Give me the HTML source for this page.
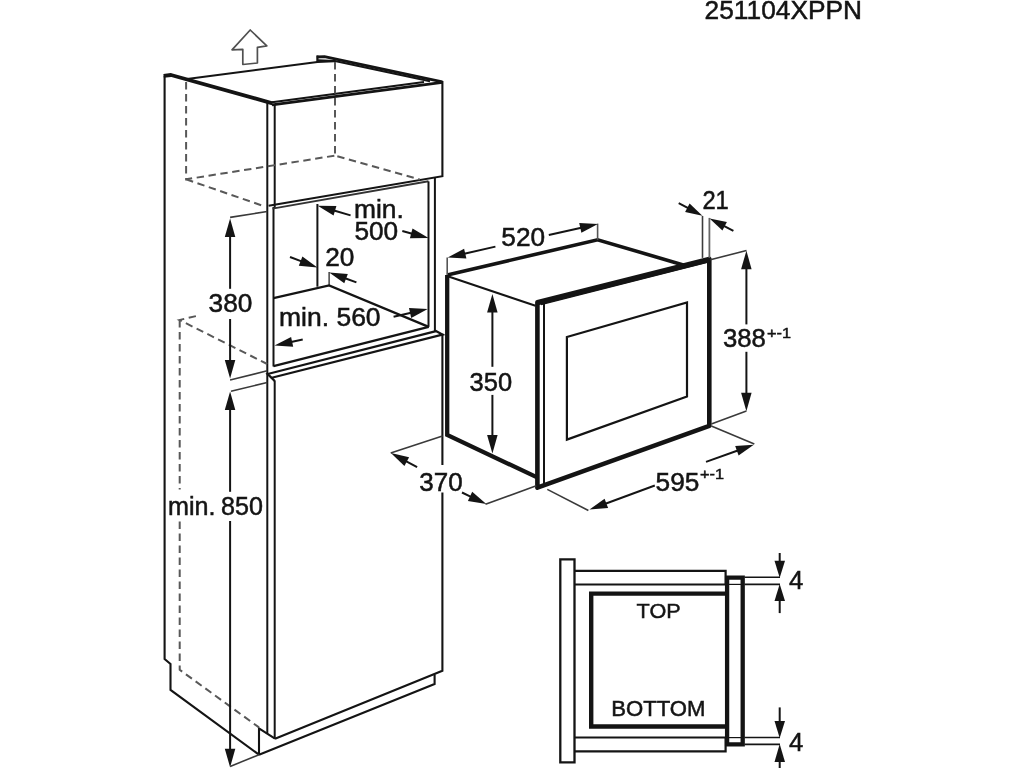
<!DOCTYPE html>
<html lang="en">
<head>
<meta charset="utf-8">
<title>251104XPPN</title>
<style>
html,body{margin:0;padding:0;background:#fff;}
body{width:1024px;height:768px;overflow:hidden;}
svg{display:block;filter:blur(0.45px);}
svg text{font-family:"Liberation Sans",sans-serif;}
</style>
</head>
<body>
<svg width="1024" height="768" viewBox="0 0 1024 768">
<rect width="1024" height="768" fill="#fff"/>
<text transform="translate(704.60 18.90) scale(1.0120 1)" font-size="26" text-anchor="start" fill="#141414" stroke="#141414" stroke-width="0.5">251104XPPN</text>
<path d="M250.2 30.0 L266.8 45.8 L257.4 47.3 L257.4 63.0 L242.8 64.5 L242.8 49.3 L232.0 49.8 Z" fill="none" stroke="#505050" stroke-width="1.7" stroke-linecap="butt" stroke-linejoin="round"/>
<path d="M164.6 75.7 L164.6 659.0 L170.5 663.9 L170.5 689.9 L259.0 754.7" fill="none" stroke="#141414" stroke-width="2.1" stroke-linecap="butt" stroke-linejoin="miter"/>
<path d="M259.0 754.7 L259.0 728.4 L275.0 738.7" fill="none" stroke="#141414" stroke-width="2.1" stroke-linecap="butt" stroke-linejoin="miter"/>
<path d="M259.0 754.7 L434.6 684.0 L434.6 674.6" fill="none" stroke="#141414" stroke-width="2.1" stroke-linecap="butt" stroke-linejoin="miter"/>
<path d="M275.0 738.7 L442.4 670.7 L442.4 492.5" fill="none" stroke="#141414" stroke-width="2.1" stroke-linecap="butt" stroke-linejoin="miter"/>
<path d="M442.4 465.0 L442.4 333.7" fill="none" stroke="#141414" stroke-width="2.1" stroke-linecap="butt" stroke-linejoin="miter"/>
<path d="M267.3 103.0 L267.3 733.5" fill="none" stroke="#141414" stroke-width="2.0" stroke-linecap="butt" stroke-linejoin="miter"/>
<path d="M274.7 104.0 L274.7 208.0" fill="none" stroke="#141414" stroke-width="2.0" stroke-linecap="butt" stroke-linejoin="miter"/>
<path d="M273.5 207.0 L273.5 366.5" fill="none" stroke="#141414" stroke-width="2.0" stroke-linecap="butt" stroke-linejoin="miter"/>
<path d="M274.7 380.5 L274.7 738.5" fill="none" stroke="#141414" stroke-width="2.0" stroke-linecap="butt" stroke-linejoin="miter"/>
<path d="M163.6 75.9 L171.0 75.0 L272.5 103.3" fill="none" stroke="#141414" stroke-width="3.8" stroke-linecap="butt" stroke-linejoin="round"/>
<path d="M272.0 104.8 L442.4 82.4" fill="none" stroke="#141414" stroke-width="2.7" stroke-linecap="butt" stroke-linejoin="miter"/>
<path d="M272.0 102.2 L424.0 82.0" fill="none" stroke="#141414" stroke-width="2.1" stroke-linecap="butt" stroke-linejoin="miter"/>
<path d="M316.8 57.0 L324.5 56.6 L442.4 81.8" fill="none" stroke="#141414" stroke-width="2.8" stroke-linecap="butt" stroke-linejoin="round"/>
<path d="M318.0 60.2 L335.0 61.0 L430.0 81.2" fill="none" stroke="#141414" stroke-width="2.0" stroke-linecap="butt" stroke-linejoin="miter"/>
<path d="M317.4 55.5 L317.4 62.0" fill="none" stroke="#141414" stroke-width="2.2" stroke-linecap="butt" stroke-linejoin="miter"/>
<path d="M187.0 79.0 L317.4 62.0 L334.5 61.2" fill="none" stroke="#141414" stroke-width="2.0" stroke-linecap="butt" stroke-linejoin="miter"/>
<path d="M442.4 81.0 L442.4 176.2 L268.6 205.7" fill="none" stroke="#141414" stroke-width="2.1" stroke-linecap="butt" stroke-linejoin="miter"/>
<path d="M272.5 208.6 L428.5 181.3" fill="none" stroke="#333" stroke-width="1.9" stroke-linecap="butt" stroke-linejoin="miter"/>
<path d="M428.5 181.4 L428.5 326.9" fill="none" stroke="#141414" stroke-width="2.0" stroke-linecap="butt" stroke-linejoin="miter"/>
<path d="M434.9 177.8 L434.9 331.8" fill="none" stroke="#141414" stroke-width="2.0" stroke-linecap="butt" stroke-linejoin="miter"/>
<path d="M317.4 204.0 L317.4 286.7" fill="none" stroke="#141414" stroke-width="2.0" stroke-linecap="butt" stroke-linejoin="miter"/>
<path d="M273.5 298.2 L329.1 285.5 L428.7 326.9" fill="none" stroke="#141414" stroke-width="2.3" stroke-linecap="butt" stroke-linejoin="miter"/>
<path d="M329.1 272.0 L329.1 285.5" fill="none" stroke="#141414" stroke-width="1.2" stroke-linecap="butt" stroke-linejoin="miter"/>
<path d="M273.5 366.1 L428.7 326.9" fill="none" stroke="#141414" stroke-width="2.3" stroke-linecap="butt" stroke-linejoin="miter"/>
<path d="M274.7 381.0 L267.7 374.0 L436.0 331.2" fill="none" stroke="#141414" stroke-width="2.3" stroke-linecap="butt" stroke-linejoin="miter"/>
<path d="M270.8 378.0 L442.4 334.6 L435.0 330.6" fill="none" stroke="#141414" stroke-width="2.3" stroke-linecap="butt" stroke-linejoin="miter"/>
<path d="M186.1 82.0 L186.1 179.3 L335.0 155.6" fill="none" stroke="#585858" stroke-width="2.0" stroke-linecap="butt" stroke-linejoin="miter" stroke-dasharray="7.4 4.6"/>
<path d="M335.0 62.0 L335.0 155.6 L420.0 179.6" fill="none" stroke="#585858" stroke-width="2.0" stroke-linecap="butt" stroke-linejoin="miter" stroke-dasharray="7.4 4.6"/>
<path d="M186.1 179.3 L265.2 206.6" fill="none" stroke="#585858" stroke-width="2.0" stroke-linecap="butt" stroke-linejoin="miter" stroke-dasharray="7.4 4.6"/>
<path d="M195.9 316.1 L179.5 320.0 L267.2 364.0" fill="none" stroke="#585858" stroke-width="2.0" stroke-linecap="butt" stroke-linejoin="miter" stroke-dasharray="7.4 4.6"/>
<path d="M179.7 320.0 L179.7 489.5" fill="none" stroke="#585858" stroke-width="2.0" stroke-linecap="butt" stroke-linejoin="miter" stroke-dasharray="7.4 4.6"/>
<path d="M179.7 521.5 L179.7 669.8 L259.0 727.4" fill="none" stroke="#585858" stroke-width="2.0" stroke-linecap="butt" stroke-linejoin="miter" stroke-dasharray="7.4 4.6"/>
<path d="M230.1 217.4 L267.2 211.5" fill="none" stroke="#3a3a3a" stroke-width="1.6" stroke-linecap="butt" stroke-linejoin="miter"/>
<path d="M230.1 380.0 L267.2 370.8" fill="none" stroke="#3a3a3a" stroke-width="1.6" stroke-linecap="butt" stroke-linejoin="miter"/>
<path d="M231.0 391.3 L267.2 382.5" fill="none" stroke="#3a3a3a" stroke-width="1.6" stroke-linecap="butt" stroke-linejoin="miter"/>
<path d="M230.1 288.8 L230.1 236.1" fill="none" stroke="#141414" stroke-width="2.0" stroke-linecap="butt" stroke-linejoin="miter"/>
<path d="M230.1 218.6 L235.3 237.1 L224.8 237.1 Z" fill="#141414"/>
<path d="M230.1 319.0 L230.1 360.9" fill="none" stroke="#141414" stroke-width="2.0" stroke-linecap="butt" stroke-linejoin="miter"/>
<path d="M230.1 378.4 L224.8 359.9 L235.3 359.9 Z" fill="#141414"/>
<text transform="translate(208.60 312.20) scale(1.0500 1)" font-size="25" text-anchor="start" fill="#141414" stroke="#141414" stroke-width="0.5">380</text>
<path d="M230.1 491.8 L230.1 408.9" fill="none" stroke="#141414" stroke-width="2.0" stroke-linecap="butt" stroke-linejoin="miter"/>
<path d="M230.1 391.4 L235.3 409.9 L224.8 409.9 Z" fill="#141414"/>
<path d="M230.1 521.0 L230.1 749.8" fill="none" stroke="#141414" stroke-width="2.0" stroke-linecap="butt" stroke-linejoin="miter"/>
<path d="M230.1 767.3 L224.8 748.8 L235.3 748.8 Z" fill="#141414"/>
<path d="M230.1 766.4 L259.0 754.7" fill="none" stroke="#3a3a3a" stroke-width="1.6" stroke-linecap="butt" stroke-linejoin="miter"/>
<text transform="translate(168.00 514.80) scale(1.0050 1)" font-size="25" text-anchor="start" fill="#141414" stroke="#141414" stroke-width="0.5" word-spacing="-1.4">min. 850</text>
<path d="M350.6 215.4 L334.0 210.5" fill="none" stroke="#141414" stroke-width="2.0" stroke-linecap="butt" stroke-linejoin="miter"/>
<path d="M317.7 205.7 L336.4 206.0 L333.6 215.6 Z" fill="#141414"/>
<path d="M402.3 231.0 L412.2 233.7" fill="none" stroke="#141414" stroke-width="2.0" stroke-linecap="butt" stroke-linejoin="miter"/>
<path d="M428.6 238.1 L409.9 238.2 L412.5 228.6 Z" fill="#141414"/>
<text transform="translate(354.00 218.20) scale(1.0550 1)" font-size="25" text-anchor="start" fill="#141414" stroke="#141414" stroke-width="0.5">min.</text>
<text transform="translate(354.40 239.80) scale(1.0500 1)" font-size="25" text-anchor="start" fill="#141414" stroke="#141414" stroke-width="0.5">500</text>
<path d="M290.0 257.0 L301.6 261.4" fill="none" stroke="#141414" stroke-width="2.0" stroke-linecap="butt" stroke-linejoin="miter"/>
<path d="M317.4 267.5 L298.8 265.7 L302.4 256.4 Z" fill="#141414"/>
<path d="M356.4 282.4 L345.1 278.3" fill="none" stroke="#141414" stroke-width="2.0" stroke-linecap="butt" stroke-linejoin="miter"/>
<path d="M329.2 272.4 L347.8 273.9 L344.3 283.3 Z" fill="#141414"/>
<text transform="translate(325.20 266.20) scale(1.0500 1)" font-size="25" text-anchor="start" fill="#141414" stroke="#141414" stroke-width="0.5">20</text>
<path d="M302.7 339.6 L291.1 342.1" fill="none" stroke="#141414" stroke-width="2.0" stroke-linecap="butt" stroke-linejoin="miter"/>
<path d="M274.5 345.6 L291.1 337.0 L293.2 346.7 Z" fill="#141414"/>
<path d="M393.6 316.7 L411.1 312.8" fill="none" stroke="#141414" stroke-width="2.0" stroke-linecap="butt" stroke-linejoin="miter"/>
<path d="M427.7 309.1 L411.2 317.9 L409.0 308.1 Z" fill="#141414"/>
<text transform="translate(279.00 325.90) scale(1.0600 1)" font-size="25" text-anchor="start" fill="#141414" stroke="#141414" stroke-width="0.5">min. 560</text>
<path d="M447.2 275.0 L447.2 434.9 L538.2 477.9" fill="none" stroke="#141414" stroke-width="4.3" stroke-linecap="butt" stroke-linejoin="miter"/>
<path d="M447.2 275.0 L597.6 239.8 L685.0 265.4" fill="none" stroke="#141414" stroke-width="3.6" stroke-linecap="butt" stroke-linejoin="miter"/>
<path d="M448.5 276.5 L535.5 305.8" fill="none" stroke="#141414" stroke-width="2.0" stroke-linecap="butt" stroke-linejoin="miter"/>
<path d="M537.4 487.6 L537.4 302.3 L709.3 258.9 L709.3 425.9 Z" fill="none" stroke="#141414" stroke-width="4.6" stroke-linecap="butt" stroke-linejoin="round"/>
<path d="M538.0 303.6 L709.0 260.4" fill="none" stroke="#141414" stroke-width="3.6" stroke-linecap="butt" stroke-linejoin="miter"/>
<path d="M544.0 303.0 L544.0 485.0" fill="none" stroke="#141414" stroke-width="2.0" stroke-linecap="butt" stroke-linejoin="miter"/>
<path d="M541.0 304.6 L709.0 261.8" fill="none" stroke="#141414" stroke-width="1.4" stroke-linecap="butt" stroke-linejoin="miter"/>
<path d="M566.9 337.0 L687.0 302.5 L687.0 396.6 L566.9 439.6 Z" fill="none" stroke="#141414" stroke-width="2.2" stroke-linecap="butt" stroke-linejoin="miter"/>
<path d="M447.2 257.4 L447.2 275.0" fill="none" stroke="#555" stroke-width="1.6" stroke-linecap="butt" stroke-linejoin="miter"/>
<path d="M597.6 223.6 L597.6 239.8" fill="none" stroke="#555" stroke-width="1.6" stroke-linecap="butt" stroke-linejoin="miter"/>
<path d="M495.4 246.6 L464.3 253.8" fill="none" stroke="#141414" stroke-width="2.0" stroke-linecap="butt" stroke-linejoin="miter"/>
<path d="M447.7 257.6 L464.1 248.7 L466.4 258.4 Z" fill="#141414"/>
<path d="M548.8 234.9 L581.3 227.7" fill="none" stroke="#141414" stroke-width="2.0" stroke-linecap="butt" stroke-linejoin="miter"/>
<path d="M597.9 224.0 L581.4 232.8 L579.2 223.0 Z" fill="#141414"/>
<text transform="translate(501.30 245.70) scale(1.0500 1)" font-size="25" text-anchor="start" fill="#141414" stroke="#141414" stroke-width="0.5">520</text>
<path d="M702.5 215.9 L702.5 257.9" fill="none" stroke="#3c3c3c" stroke-width="1.6" stroke-linecap="butt" stroke-linejoin="miter"/>
<path d="M709.4 217.9 L709.4 257.9" fill="none" stroke="#666" stroke-width="1.8" stroke-linecap="butt" stroke-linejoin="miter"/>
<path d="M678.7 203.2 L688.2 208.2" fill="none" stroke="#141414" stroke-width="2.0" stroke-linecap="butt" stroke-linejoin="miter"/>
<path d="M702.4 215.7 L685.1 212.0 L689.6 203.6 Z" fill="#141414"/>
<path d="M733.4 230.9 L723.8 225.8" fill="none" stroke="#141414" stroke-width="2.0" stroke-linecap="butt" stroke-linejoin="miter"/>
<path d="M709.6 218.4 L726.9 222.1 L722.4 230.5 Z" fill="#141414"/>
<text transform="translate(702.40 209.00) scale(0.9500 1)" font-size="25" text-anchor="start" fill="#141414" stroke="#141414" stroke-width="0.5">21</text>
<path d="M710.4 259.8 L746.5 250.5" fill="none" stroke="#3a3a3a" stroke-width="1.6" stroke-linecap="butt" stroke-linejoin="miter"/>
<path d="M711.3 424.0 L746.4 410.9" fill="none" stroke="#3a3a3a" stroke-width="1.6" stroke-linecap="butt" stroke-linejoin="miter"/>
<path d="M746.4 324.4 L746.4 268.2" fill="none" stroke="#141414" stroke-width="2.0" stroke-linecap="butt" stroke-linejoin="miter"/>
<path d="M746.4 250.7 L751.6 269.2 L741.1 269.2 Z" fill="#141414"/>
<path d="M746.4 351.8 L746.4 393.8" fill="none" stroke="#141414" stroke-width="2.0" stroke-linecap="butt" stroke-linejoin="miter"/>
<path d="M746.4 411.3 L741.1 392.8 L751.6 392.8 Z" fill="#141414"/>
<text transform="translate(722.90 346.90) scale(1.0300 1)" font-size="25" text-anchor="start" fill="#141414" stroke="#141414" stroke-width="0.5">388</text>
<text transform="translate(767.00 338.10) scale(1.0500 1)" font-size="15.5" text-anchor="start" fill="#141414" stroke="#141414" stroke-width="0.5">+-1</text>
<path d="M492.4 366.8 L492.4 311.4" fill="none" stroke="#141414" stroke-width="2.0" stroke-linecap="butt" stroke-linejoin="miter"/>
<path d="M492.4 293.9 L497.6 312.4 L487.1 312.4 Z" fill="#141414"/>
<path d="M492.4 394.9 L492.4 435.9" fill="none" stroke="#141414" stroke-width="2.0" stroke-linecap="butt" stroke-linejoin="miter"/>
<path d="M492.4 453.4 L487.1 434.9 L497.6 434.9 Z" fill="#141414"/>
<text transform="translate(469.60 391.00) scale(1.0200 1)" font-size="25" text-anchor="start" fill="#141414" stroke="#141414" stroke-width="0.5">350</text>
<path d="M442.5 435.9 L390.7 452.9" fill="none" stroke="#3a3a3a" stroke-width="1.6" stroke-linecap="butt" stroke-linejoin="miter"/>
<path d="M536.3 485.7 L485.5 504.3" fill="none" stroke="#3a3a3a" stroke-width="1.6" stroke-linecap="butt" stroke-linejoin="miter"/>
<path d="M417.1 467.1 L405.9 461.1" fill="none" stroke="#141414" stroke-width="2.0" stroke-linecap="butt" stroke-linejoin="miter"/>
<path d="M390.9 453.1 L409.1 457.2 L404.4 466.0 Z" fill="#141414"/>
<path d="M462.0 492.5 L471.0 496.8" fill="none" stroke="#141414" stroke-width="2.0" stroke-linecap="butt" stroke-linejoin="miter"/>
<path d="M486.3 504.1 L467.9 500.9 L472.2 491.8 Z" fill="#141414"/>
<text transform="translate(419.30 490.50) scale(1.0400 1)" font-size="25" text-anchor="start" fill="#141414" stroke="#141414" stroke-width="0.5">370</text>
<path d="M547.3 489.4 L588.4 510.5" fill="none" stroke="#3a3a3a" stroke-width="1.6" stroke-linecap="butt" stroke-linejoin="miter"/>
<path d="M711.3 426.0 L754.3 444.1" fill="none" stroke="#3a3a3a" stroke-width="1.6" stroke-linecap="butt" stroke-linejoin="miter"/>
<path d="M654.8 485.5 L605.4 503.7" fill="none" stroke="#141414" stroke-width="2.0" stroke-linecap="butt" stroke-linejoin="miter"/>
<path d="M589.5 509.6 L604.6 498.7 L608.1 508.1 Z" fill="#141414"/>
<path d="M706.0 461.9 L737.8 450.5" fill="none" stroke="#141414" stroke-width="2.0" stroke-linecap="butt" stroke-linejoin="miter"/>
<path d="M753.8 444.8 L738.6 455.6 L735.2 446.1 Z" fill="#141414"/>
<text transform="translate(655.60 490.80) scale(1.0500 1)" font-size="25" text-anchor="start" fill="#141414" stroke="#141414" stroke-width="0.5">595</text>
<text transform="translate(700.00 478.50) scale(1.0500 1)" font-size="15.5" text-anchor="start" fill="#141414" stroke="#141414" stroke-width="0.5">+-1</text>
<path d="M560.3 559.3 L574.5 559.3 L574.5 762.3 L560.3 762.3 Z" fill="none" stroke="#141414" stroke-width="2.3" stroke-linecap="butt" stroke-linejoin="miter"/>
<path d="M574.5 570.9 L725.6 570.9 L725.6 584.5 L574.5 584.5" fill="none" stroke="#141414" stroke-width="2.2" stroke-linecap="butt" stroke-linejoin="miter"/>
<path d="M574.5 737.5 L725.6 737.5 L725.6 751.3 L574.5 751.3" fill="none" stroke="#141414" stroke-width="2.2" stroke-linecap="butt" stroke-linejoin="miter"/>
<path d="M727.0 593.6 L591.2 593.6 L591.2 726.5 L727.0 726.5" fill="none" stroke="#141414" stroke-width="4.4" stroke-linecap="butt" stroke-linejoin="miter"/>
<path d="M727.1 577.6 L742.7 577.6 L742.7 744.3 L727.1 744.3 Z" fill="none" stroke="#141414" stroke-width="4.3" stroke-linecap="butt" stroke-linejoin="miter"/>
<path d="M729.0 584.4 L741.0 584.4" fill="none" stroke="#141414" stroke-width="1.2" stroke-linecap="butt" stroke-linejoin="miter"/>
<path d="M729.0 737.6 L741.0 737.6" fill="none" stroke="#141414" stroke-width="1.2" stroke-linecap="butt" stroke-linejoin="miter"/>
<path d="M744.5 577.2 L780.0 577.2" fill="none" stroke="#141414" stroke-width="1.6" stroke-linecap="butt" stroke-linejoin="miter"/>
<path d="M744.5 584.4 L780.0 584.4" fill="none" stroke="#141414" stroke-width="1.6" stroke-linecap="butt" stroke-linejoin="miter"/>
<path d="M744.5 737.5 L780.0 737.5" fill="none" stroke="#141414" stroke-width="1.6" stroke-linecap="butt" stroke-linejoin="miter"/>
<path d="M744.5 744.4 L780.0 744.4" fill="none" stroke="#141414" stroke-width="1.6" stroke-linecap="butt" stroke-linejoin="miter"/>
<path d="M779.7 553.0 L779.7 561.7" fill="none" stroke="#141414" stroke-width="2.0" stroke-linecap="butt" stroke-linejoin="miter"/>
<path d="M779.7 577.7 L774.5 560.7 L785.0 560.7 Z" fill="#141414"/>
<path d="M779.7 613.1 L779.7 600.1" fill="none" stroke="#141414" stroke-width="2.0" stroke-linecap="butt" stroke-linejoin="miter"/>
<path d="M779.7 584.1 L785.0 601.1 L774.5 601.1 Z" fill="#141414"/>
<path d="M779.7 707.4 L779.7 721.9" fill="none" stroke="#141414" stroke-width="2.0" stroke-linecap="butt" stroke-linejoin="miter"/>
<path d="M779.7 737.9 L774.5 720.9 L785.0 720.9 Z" fill="#141414"/>
<path d="M779.7 775.0 L779.7 761.1" fill="none" stroke="#141414" stroke-width="2.0" stroke-linecap="butt" stroke-linejoin="miter"/>
<path d="M779.7 744.1 L785.0 762.1 L774.5 762.1 Z" fill="#141414"/>
<text transform="translate(789.00 588.90) scale(1.0300 1)" font-size="25" text-anchor="start" fill="#141414" stroke="#141414" stroke-width="0.5">4</text>
<text transform="translate(789.00 751.20) scale(1.0300 1)" font-size="25" text-anchor="start" fill="#141414" stroke="#141414" stroke-width="0.5">4</text>
<text transform="translate(636.60 618.10) scale(1.0300 1)" font-size="21" text-anchor="start" fill="#141414" stroke="#141414" stroke-width="0.5">TOP</text>
<text transform="translate(611.20 715.70) scale(1.0300 1)" font-size="21.5" text-anchor="start" fill="#141414" stroke="#141414" stroke-width="0.5">BOTTOM</text>
</svg>
</body>
</html>
